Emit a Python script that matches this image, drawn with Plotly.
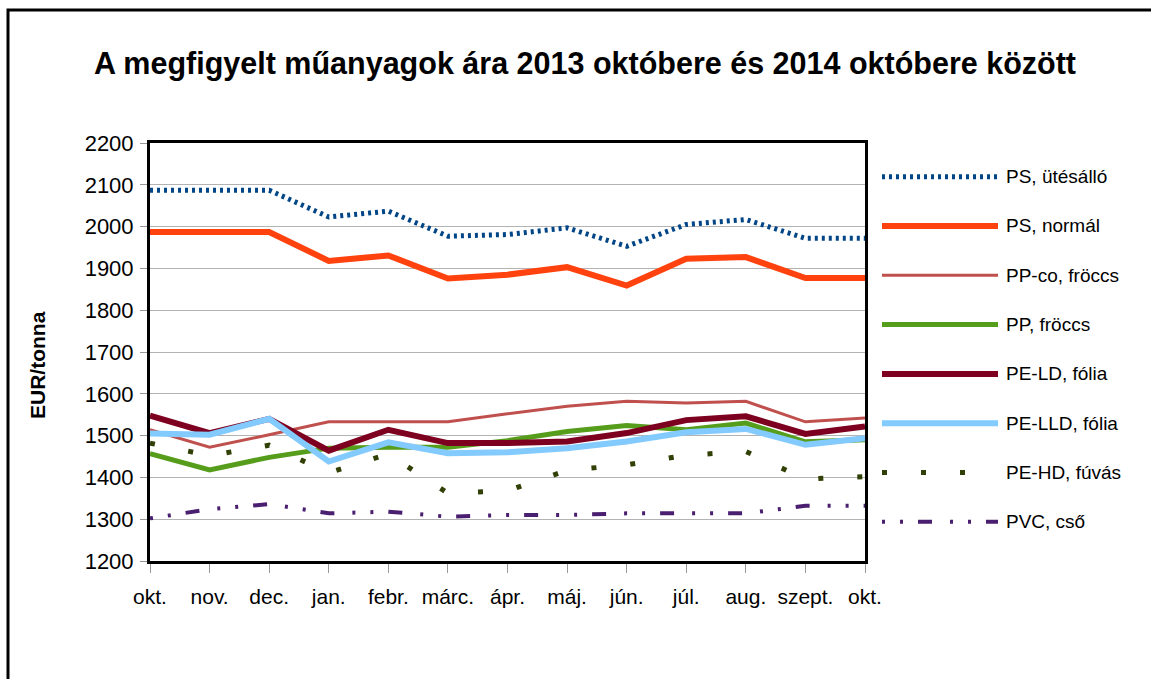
import plotly.graph_objects as go

# ---- data ----
months = ["okt.", "nov.", "dec.", "jan.", "febr.", "márc.", "ápr.", "máj.",
          "jún.", "júl.", "aug.", "szept.", "okt."]

ps_utesallo = [2087, 2087, 2087, 2023, 2037, 1977, 1981, 1997, 1953, 2005, 2017, 1972, 1972]
ps_normal = [1987, 1987, 1987, 1918, 1931, 1876, 1885, 1903, 1859, 1923, 1927, 1877, 1877]
pp_co_froccs = [1514, 1472, 1502, 1533, 1533, 1533, 1552, 1570, 1582, 1578, 1582, 1533, 1542]
pp_froccs = [1457, 1418, 1448, 1470, 1472, 1472, 1488, 1510, 1524, 1514, 1530, 1485, 1490]
pe_ld_folia = [1548, 1506, 1540, 1464, 1514, 1482, 1482, 1486, 1506, 1537, 1546, 1504, 1522]
pe_lld_folia = [1505, 1502, 1540, 1438, 1484, 1458, 1460, 1470, 1486, 1508, 1516, 1478, 1494]
pe_hd_fuvas = [1482, 1452, 1477, 1411, 1456, 1362, 1368, 1417, 1430, 1453, 1462, 1396, 1402]
pvc_cso = [1302, 1324, 1336, 1314, 1318, 1306, 1310, 1310, 1314, 1314, 1314, 1332, 1332]

series_names = ["PS, ütésálló", "PS, normál", "PP-co, fröccs", "PP, fröccs",
                "PE-LD, fólia", "PE-LLD, fólia", "PE-HD, fúvás", "PVC, cső"]
series_values = [ps_utesallo, ps_normal, pp_co_froccs, pp_froccs,
                 pe_ld_folia, pe_lld_folia, pe_hd_fuvas, pvc_cso]

y_ticks = list(range(1200, 2201, 100))

# ---- styles ----
styles = [
    dict(color="#004586", width=5, dash="3px,4px"),
    dict(color="#ff420e", width=6, dash="solid"),
    dict(color="#c0504d", width=3, dash="solid"),
    dict(color="#579d1c", width=5, dash="solid"),
    dict(color="#7e0021", width=6, dash="solid"),
    dict(color="#83caff", width=6, dash="solid"),
    dict(color="#314004", width=5, dash="5px,34px"),
    dict(color="#4b1f6f", width=4, dash="3px,15px,3px,15px,14px,18px"),
]

FONT = "Liberation Sans, Arial, sans-serif"
W, H = 1151, 679
ML, MR, MT, MB = 150, 10, 143, 118
PW, PH = W - ML - MR, H - MT - MB


def px_x(p):
    return (p - ML) / PW


def px_y(p):
    return (H - MB - p) / PH


x_idx = list(range(len(months)))

fig = go.Figure()
for name, vals, st in zip(series_names, series_values, styles):
    fig.add_trace(go.Scatter(x=x_idx, y=vals, mode="lines", name=name,
                             line=st, xaxis="x", yaxis="y",
                             showlegend=False, hoverinfo="x+y+name"))

# custom legend drawn on its own small axes (long line samples)
for i, (name, st) in enumerate(zip(series_names, styles)):
    fig.add_trace(go.Scatter(x=[0, 1], y=[i, i], mode="lines", line=st,
                             xaxis="x2", yaxis="y2", showlegend=False,
                             hoverinfo="skip"))
    fig.add_annotation(text=name, xref="paper", x=px_x(1004), yref="y2", y=i,
                       xanchor="left", yanchor="middle", showarrow=False,
                       font=dict(family=FONT, size=19, color="black"))

row_top, row_step = 176.7, 49.3
fig.update_layout(
    template="none",
    width=W, height=H, autosize=False,
    margin=dict(l=ML, r=MR, t=MT, b=MB, pad=0),
    paper_bgcolor="white", plot_bgcolor="white",
    showlegend=False,
    font=dict(family=FONT, color="black"),
    title=dict(text="<b>A megfigyelt műanyagok ára 2013 októbere és 2014 októbere között</b>",
               x=585 / W, xref="container", xanchor="center",
               y=1 - 63 / H, yref="container", yanchor="middle",
               font=dict(family=FONT, size=30.5, color="black")),
    xaxis=dict(domain=[0, px_x(865)], range=[0, 12], tickmode="array",
               tickvals=x_idx, ticktext=months, ticks="outside", ticklen=9,
               tickcolor="#999999", tickwidth=1, showgrid=False,
               showline=True, linecolor="black", linewidth=3, mirror=True,
               tickfont=dict(family=FONT, size=21, color="black"),
               ticklabelstandoff=6, zeroline=False, automargin=False),
    yaxis=dict(range=[1200, 2200], tickmode="array", tickvals=y_ticks,
               ticks="outside", ticklen=7, tickcolor="#999999",
               showgrid=True, gridcolor="#b3b3b3", gridwidth=1,
               showline=True, linecolor="black", linewidth=3, mirror=True,
               tickfont=dict(family=FONT, size=22, color="black"),
               ticklabelstandoff=2, zeroline=False, automargin=False),
    xaxis2=dict(domain=[px_x(882), px_x(998)], range=[0, 1], visible=False,
                anchor="y2", fixedrange=True, automargin=False),
    yaxis2=dict(domain=[px_y(row_top + 7.5 * row_step), px_y(row_top - 0.5 * row_step)],
                range=[7.5, -0.5], visible=False, anchor="x2", fixedrange=True,
                automargin=False),
)

fig.add_annotation(text="<b>EUR/tonna</b>", xref="paper", x=px_x(37),
                   yref="paper", y=px_y(365), textangle=-90, showarrow=False,
                   xanchor="center", yanchor="middle",
                   font=dict(family=FONT, size=21, color="black"))

# outer frame (only top and left edges visible in the reference)
fig.add_shape(type="rect", xref="paper", yref="paper",
              x0=px_x(8), x1=px_x(1170), y0=px_y(700), y1=px_y(10),
              line=dict(color="black", width=3), fillcolor="rgba(0,0,0,0)",
              layer="above")

fig.write_html("out.html",
               config={"responsive": False, "displayModeBar": False},
               post_script="document.body.style.margin='0';"
                           "document.body.style.overflow='hidden';")
